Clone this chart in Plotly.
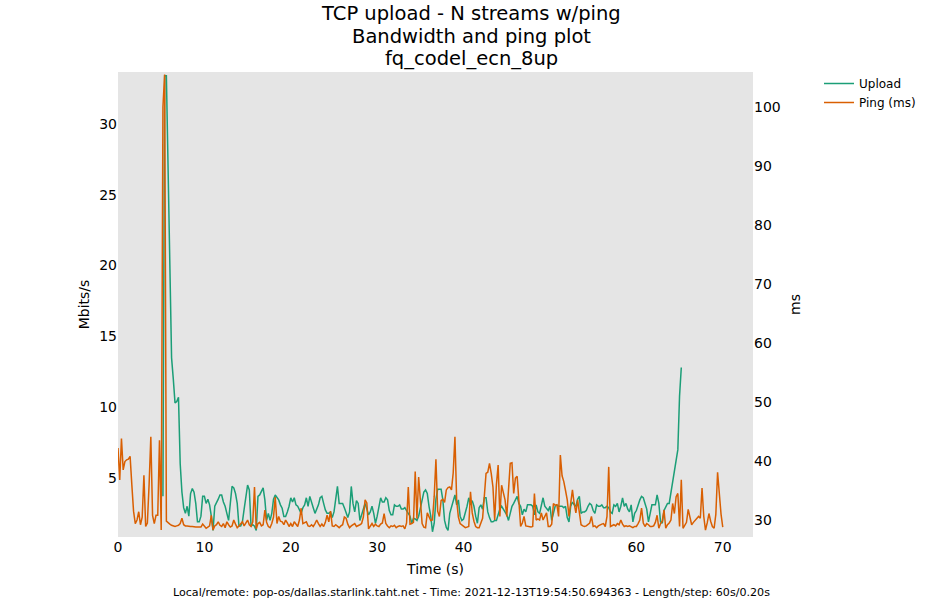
import plotly.graph_objects as go

# ---- data ----
UPLOAD_T0 = 5.2
PING_T0 = 0.0
STEP = 0.2

upload_mbps = [
    3.7, 33.4, 33.4, 26.0, 18.0, 13.5, 12.0, 10.3, 10.4, 10.7,
    6.0, 4.0, 2.9, 2.5, 3.0, 2.3, 3.9, 4.25, 4.0, 3.2,
    1.9, 1.9, 2.3, 3.7, 3.7, 3.2, 3.5, 3.1, 2.3, 1.3,
    3.0, 3.2, 3.5, 3.8, 3.8, 3.3, 3.0, 2.5, 2.0, 3.2,
    4.4, 4.3, 3.9, 3.2, 1.6, 1.6, 1.9, 2.8, 3.8, 4.5,
    4.15, 1.6, 1.7, 1.6, 1.3, 3.7, 3.8, 4.1, 4.3, 3.45,
    2.0, 2.5, 2.0, 2.5, 3.5, 3.8, 3.6, 3.45, 3.1, 2.86,
    2.27, 2.27, 2.6, 3.0, 3.6, 3.3, 3.6, 3.1, 3.0, 2.8,
    2.5, 2.9, 3.1, 3.6, 3.0, 3.7, 3.2, 2.9, 2.5, 2.8,
    3.1, 3.6, 3.7, 3.2, 2.74, 2.5, 2.5, 2.6, 2.2, 2.6,
    3.45, 4.4, 3.2, 3.2, 3.2, 2.9, 2.6, 2.2, 2.6, 4.4,
    3.2, 2.6, 3.4, 3.2, 2.0, 2.4, 2.7, 3.2, 2.8, 2.4,
    2.6, 3.0, 2.5, 1.8, 2.3, 2.9, 3.6, 3.3, 3.3, 3.6,
    3.45, 2.7, 2.4, 2.4, 3.1, 3.0, 3.0, 3.1, 2.8, 2.8,
    2.9, 2.7, 2.5, 2.3, 1.8, 2.15, 2.1, 2.0, 2.3, 2.9,
    3.45, 4.0, 4.15, 3.9, 3.0, 2.3, 1.2, 1.8, 3.5, 4.2,
    4.2, 4.2, 3.45, 2.0, 1.5, 1.3, 2.5, 3.0, 3.5, 3.8,
    3.1, 3.45, 2.3, 2.0, 2.1, 2.5, 3.0, 3.6, 3.1, 3.4,
    3.0, 2.3, 1.8, 2.9, 3.1, 2.8, 3.6, 3.6, 2.6, 2.2,
    1.9, 1.9, 2.0, 2.0, 2.5, 2.8, 3.0, 2.8, 2.6, 2.4,
    2.0, 2.6, 3.0, 3.2, 3.4, 3.7, 3.2, 3.0, 2.4, 2.8,
    2.6, 3.1, 3.1, 3.1, 3.0, 2.4, 3.1, 2.6, 2.5, 3.0,
    3.6, 3.0, 2.8, 2.7, 3.0, 2.0, 2.5, 3.0, 3.1, 3.0,
    3.0, 3.0, 2.9, 3.0, 2.2, 1.9, 3.0, 3.3, 3.1, 3.0,
    3.5, 3.7, 2.5, 2.6, 2.6, 2.7, 3.0, 3.2, 3.1, 2.7,
    2.5, 3.1, 3.0, 3.0, 3.1, 2.9, 2.9, 3.0, 2.9, 2.6,
    2.5, 3.1, 3.0, 3.2, 2.6, 3.0, 3.6, 3.0, 3.2, 2.8,
    2.6, 3.1, 1.9, 2.5, 2.7, 3.1, 3.45, 3.7, 3.6, 3.2,
    2.8, 1.9, 2.5, 3.1, 3.1, 3.1, 3.8, 3.2, 1.9, 1.8,
    2.7, 3.0, 3.2, 3.2, 3.9, 4.8, 5.3, 6.0, 7.0, 10.8,
    12.8,
]

ping_ms = [
    42.2, 36.8, 43.8, 38.5, 39.9, 40.2, 40.3, 40.8, 36.0, 31.5,
    29.4, 30.0, 31.4, 29.2, 30.5, 37.6, 28.9, 29.5, 36.0, 44.1,
    30.8, 29.4, 30.8, 30.8, 43.5, 28.3, 100.0, 105.5, 29.8, 29.5,
    29.3, 29.1, 29.0, 28.9, 29.0, 29.1, 29.4, 30.3, 29.2, 29.0,
    29.0, 28.9, 28.9, 28.9, 28.8, 28.8, 28.8, 28.8, 28.8, 29.3,
    28.9, 28.6, 28.8, 29.0, 30.8, 28.3, 29.0, 29.2, 29.7, 29.1,
    28.9, 29.4, 28.7, 29.7, 29.2, 28.8, 29.0, 30.0, 29.3, 28.7,
    29.0, 29.3, 29.7, 29.0, 29.4, 30.0, 29.2, 28.9, 29.7, 35.6,
    28.5, 29.4, 29.6, 29.0, 29.2, 31.7, 29.6, 28.9, 28.7, 29.4,
    30.5, 33.9, 29.4, 30.6, 29.8, 29.7, 29.2, 30.0, 29.5, 28.9,
    29.4, 28.9, 29.7, 29.2, 28.9, 30.0, 32.0, 29.4, 29.6, 29.7,
    29.0, 28.9, 29.2, 28.9, 29.4, 30.0, 29.4, 28.9, 29.3, 28.9,
    29.6, 30.8, 29.7, 31.5, 29.0, 28.9, 29.2, 29.0, 28.7, 29.0,
    29.2, 30.5, 30.3, 29.3, 28.7, 29.0, 29.2, 29.4, 28.9, 29.0,
    29.2, 29.4, 30.5, 33.4, 32.9, 28.5, 29.0, 29.4, 28.9, 29.3,
    29.0, 28.9, 29.3, 29.5, 31.1, 29.4, 29.0, 28.7, 29.0, 28.9,
    29.1, 28.7, 28.9, 29.0, 28.9, 29.0, 28.5, 29.5, 35.6, 29.3,
    29.4, 29.6, 38.2, 30.2, 37.3, 33.0, 29.4, 28.8, 28.7, 31.2,
    30.5, 29.9, 30.0, 34.0, 40.3, 31.5, 30.6, 33.3, 33.5, 33.0,
    35.1, 35.5, 35.6, 35.1, 38.0, 44.1, 33.3, 30.5, 29.4, 29.2,
    29.0, 28.7, 28.8, 28.9, 34.8, 31.2, 29.8, 28.9, 28.7, 28.7,
    29.5, 30.3, 34.0, 37.9, 38.1, 39.6, 37.9, 35.6, 30.0, 36.0,
    39.3, 30.6, 35.9, 34.5, 33.4, 30.6, 36.0, 39.6, 39.7, 34.5,
    37.1, 37.4, 33.3, 28.9, 29.5, 30.6, 29.0, 28.9, 28.9, 28.8,
    28.9, 34.5, 30.0, 30.2, 30.0, 31.2, 30.0, 30.6, 31.2, 28.9,
    28.9, 29.3, 32.8, 32.5, 32.6, 30.6, 41.0, 37.5, 36.5, 35.0,
    33.4, 30.6, 32.8, 35.1, 32.8, 31.2, 33.4, 31.0, 29.2, 29.0,
    28.9, 29.0, 29.2, 29.5, 30.6, 28.9, 29.0, 28.7, 29.0, 29.2,
    29.3, 29.4, 28.9, 30.6, 39.0, 28.9, 29.0, 29.2, 29.0, 29.4,
    29.2, 30.0, 29.3, 28.9, 29.0, 28.9, 29.0, 28.9, 28.7, 28.9,
    28.9, 29.4, 30.0, 32.0, 29.5, 28.9, 29.4, 29.2, 28.9, 28.9,
    29.0, 29.6, 30.8, 28.6, 29.4, 29.8, 31.7, 28.6, 29.2, 29.5,
    30.0, 32.8, 31.1, 33.95, 34.5, 28.9, 36.8, 28.6, 29.0, 29.6,
    31.8, 30.5, 29.2, 29.6, 30.0, 30.3, 30.6, 30.3, 35.4, 30.6,
    28.3, 29.5, 31.1, 29.8, 28.9, 28.6, 31.0, 38.1, 33.9, 31.0,
    28.8,
]

upload_t = [round(UPLOAD_T0 + STEP * i, 2) for i in range(len(upload_mbps))]
ping_t = [round(PING_T0 + STEP * i, 2) for i in range(len(ping_ms))]

x_ticks = [0, 10, 20, 30, 40, 50, 60, 70]
left_ticks = [5, 10, 15, 20, 25, 30]
right_ticks = [30, 40, 50, 60, 70, 80, 90, 100]

title_lines = ["TCP upload - N streams w/ping", "Bandwidth and ping plot", "fq_codel_ecn_8up"]
footer = "Local/remote: pop-os/dallas.starlink.taht.net - Time: 2021-12-13T19:54:50.694363 - Length/step: 60s/0.20s"

GREEN = "#1b9e77"
ORANGE = "#d95f02"
FONT = "DejaVu Sans"

fig = go.Figure()
fig.add_trace(go.Scatter(x=upload_t, y=upload_mbps, mode="lines", name="Upload",
                         line=dict(color=GREEN, width=1.5), yaxis="y"))
fig.add_trace(go.Scatter(x=ping_t, y=ping_ms, mode="lines", name="Ping (ms)",
                         line=dict(color=ORANGE, width=1.5), yaxis="y2"))

W, H = 943, 603
L, R, T, B = 118, 190, 72, 66
pw = W - L - R
ph = H - T - B

def px_to_paper_x(px):
    return (px - L) / pw

def px_to_paper_y(py):
    return (H - B - py) / ph

annotations = []
for i, line in enumerate(title_lines):
    annotations.append(dict(text=line, xref="paper", yref="paper",
                            x=px_to_paper_x(471), y=px_to_paper_y(14 + 22 * i),
                            xanchor="center", yanchor="middle", showarrow=False,
                            font=dict(family=FONT, size=19.5, color="black")))
annotations.append(dict(text=footer, xref="paper", yref="paper",
                        x=px_to_paper_x(471), y=px_to_paper_y(592),
                        xanchor="center", yanchor="middle", showarrow=False,
                        font=dict(family=FONT, size=11.1, color="black")))

axis_common = dict(showgrid=False, zeroline=False, showline=False, ticks="",
                   tickfont=dict(family=FONT, size=14, color="black"))

fig.update_layout(
    width=W, height=H,
    margin=dict(l=L, r=R, t=T, b=B, pad=0),
    paper_bgcolor="white",
    plot_bgcolor="#e5e5e5",
    font=dict(family=FONT, color="black"),
    showlegend=True,
    legend=dict(x=px_to_paper_x(819), y=px_to_paper_y(69), xanchor="left", yanchor="top",
                bgcolor="rgba(0,0,0,0)", font=dict(family=FONT, size=12, color="black"),
                tracegroupgap=0, itemwidth=30),
    xaxis=dict(range=[0, 73.5], tickvals=x_ticks, title=dict(text="Time (s)", standoff=10,
               font=dict(family=FONT, size=14, color="black")), **axis_common),
    yaxis=dict(range=[0.83, 33.67], tickvals=left_ticks, title=dict(text="Mbits/s", standoff=6,
               font=dict(family=FONT, size=14, color="black")), **axis_common),
    yaxis2=dict(range=[27.12, 105.93], tickvals=right_ticks, overlaying="y", side="right",
                title=dict(text="ms", standoff=10, font=dict(family=FONT, size=14, color="black")),
                **axis_common),
    annotations=annotations,
)

fig.write_html("out.html")
